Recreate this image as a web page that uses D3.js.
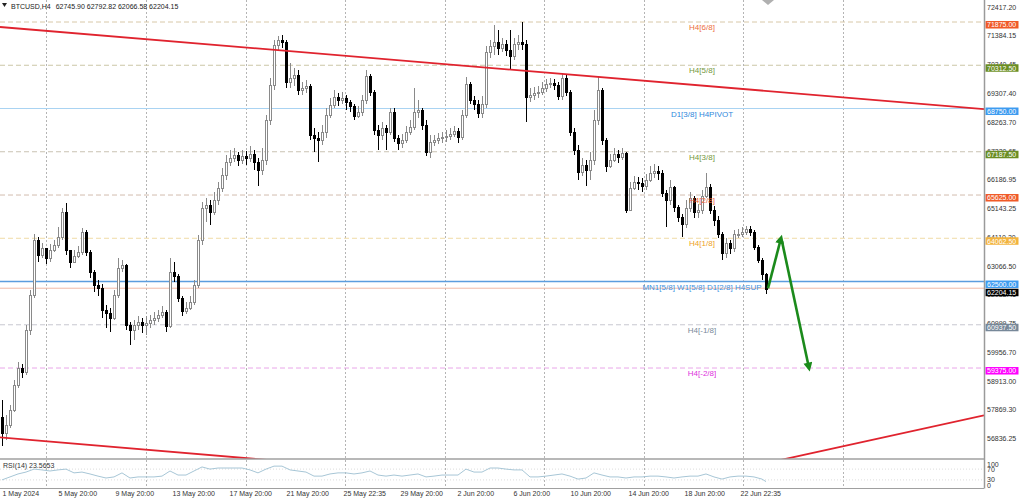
<!DOCTYPE html>
<html><head><meta charset="utf-8">
<script src="https://cdn.jsdelivr.net/npm/d3@7"></script>
<style>
body{margin:0;background:#fff;}
svg{display:block;font-family:'Liberation Sans',Arial,sans-serif;}
</style>
</head><body>
<svg id="c" width="1024" height="500"></svg>
<script>
// ---------------- DATA ----------------
const symbol = "BTCUSD,H4";
const lastOHLC = [62745.90, 62792.82, 62066.58, 62204.15];
const firstOpen = 57600;
const closes = [
57017,57306,57848,58752,59367,59222,60740,62006,63994,63452,
63705,63343,63633,63813,64102,65006,63633,63199,63416,63560,
64283,63560,62837,62367,62259,61463,61355,61174,62006,62982,
63090,60921,60740,60921,61030,60921,60994,61102,61174,61283,
61391,60885,62837,62693,61897,61427,61536,61753,62367,63994,
65151,65259,65006,65440,65874,66344,66814,66958,67067,66886,
67031,66958,67103,66814,66525,66886,68332,69597,71044,71224,
71152,69706,69850,69959,69417,69489,69561,67790,67681,67609,
67898,68513,68874,69164,69055,69127,68983,68838,68477,68621,
69055,69923,69344,67971,67790,68043,67898,68621,67681,67501,
67609,67898,68079,68621,68694,68151,67175,67537,67609,67681,
67717,67754,67826,67934,67717,68513,69633,69055,68910,68585,
68910,70790,71007,71152,70935,71079,70863,70646,71079,71152,
71079,69164,69236,69308,69344,69489,69633,69670,69597,69200,
69850,69344,67898,67248,66452,66705,66525,66886,68332,69417,
67609,66669,66886,67103,66994,67139,65079,65874,66091,66055,
65946,66163,66416,66488,66416,65693,65440,65910,65187,64825,
64572,65151,65512,65006,65079,65585,65910,65079,64717,64211,
63524,63885,63705,64211,64211,64283,64392,64283,63741,63271,
62745.9,62204.15];
const highs = [
58210,57667,58029,58933,59584,59511,60921,62186,64211,64102,
63886,63633,63850,63994,64464,65151,65332,63633,63633,63777,
64428,64355,63633,62910,62548,62403,61644,61536,62186,63343,
63271,63127,61030,61102,61247,61174,61247,61283,61391,61463,
61608,61463,63343,63199,62765,61970,61753,61970,62548,64175,
65368,65512,65440,65729,66091,66597,67067,67248,67320,67175,
67248,67211,67392,67248,66958,67320,68513,69850,71224,71369,
71405,71224,70393,70212,70140,69706,69778,69633,68043,67898,
68151,68766,69127,69417,69308,69344,69236,69055,68910,68838,
69236,70140,69995,69417,68151,68260,68151,68766,68766,67790,
67826,68115,68332,69489,69055,68766,68332,67790,67790,67862,
67898,67971,68043,68115,68043,68694,69887,69706,69200,69055,
69200,71007,71224,71766,71586,71296,71224,71586,71296,71405,
71875,71224,69489,69525,69561,69706,69814,69850,69814,69706,
70031,69959,69417,68043,67428,66958,66886,67175,68694,69887,
69489,67681,67103,67320,67248,67320,67175,66091,66308,66272,
66236,66380,66669,66741,66669,66525,65802,66163,65946,65259,
64934,65440,65729,65585,65296,65802,66416,66018,65223,64862,
64283,64066,63994,64355,64392,64464,64500,64500,64355,63813,
63343,62792.82];
const lows = [
56547,56764,57198,57776,58644,59005,59113,60560,61897,63199,
63343,63127,63199,63560,63705,63994,63452,62982,63199,63343,
63452,63416,62620,62114,61970,61174,60813,60668,61102,61897,
62837,60740,60198,60379,60740,60632,60560,60813,60921,61030,
61174,60668,60813,62476,61753,61247,61319,61463,61644,62259,
63813,64645,64536,64898,65259,65729,66163,66669,66814,66669,
66741,66705,66814,66525,65946,66344,66705,68151,69417,70863,
70935,69489,69489,69561,69236,69236,69308,67609,67175,66814,
67428,67681,68404,68766,68838,68910,68694,68621,68332,68404,
68477,68910,69200,67790,67248,67609,67248,67790,67537,67248,
67320,67501,67790,67971,68404,67971,67031,66958,67392,67464,
67501,67537,67609,67717,67501,67609,68404,68910,68694,68404,
68404,68766,70573,70682,70682,70790,70646,70140,70501,70863,
70863,68260,68983,69055,69127,69236,69344,69489,69417,69055,
69055,69200,67754,67067,66163,66308,65946,66163,66705,68151,
67428,66452,66597,66814,66778,66886,64970,65079,65802,65802,
65729,65802,66091,66235,66163,65548,64464,65259,65006,64645,
64102,64428,65006,64789,64789,64934,65512,64934,64500,64066,
63271,63343,63488,63560,64066,64102,64175,64139,63633,63163,
62548,62066.58];
// RSI(14), sampled every 2nd bar, plus the last bar
const rsiValues = [30,41,52,59,70,67,63,67,70,56,59,52,44,37,41,56,37,41,41,41,
44,63,48,48,63,78,70,74,74,74,74,67,56,70,81,81,67,63,59,44,
44,52,56,56,52,56,63,48,44,48,44,48,52,41,44,48,48,48,70,59,
59,74,74,70,67,67,41,41,44,48,52,44,33,37,56,48,41,41,37,41,
41,44,44,41,37,41,44,44,52,41,33,41,44,44,41,33, 23.5653];
const rsiLast = 23.5653;
const rsiLevels = [100, 70, 30, 0];

const priceTicks = [72417.20,71384.15,70340.45,69307.40,68263.70,67220.65,66186.95,65143.25,
  64110.20,63066.50,62033.45,60999.75,59956.70,58913.00,57869.30,56836.25];
const dateLabels = ["1 May 2024","5 May 20:00","9 May 20:00","13 May 20:00","17 May 20:00","21 May 20:00",
  "25 May 22:35","29 May 20:00","2 Jun 20:00","6 Jun 20:00","10 Jun 20:00","14 Jun 20:00","18 Jun 20:00","22 Jun 22:35"];
const dateBars = [0,14,28.25,42.5,56.75,71,85.25,99.5,113.75,127.75,142,156.5,170.5,184.5];
const gridBars = [11,36,61,85.75,110.75,135.5,160.5,185.25,210.25];

const levelPrices = [71875,70312.5,68750,67187.5,65625,64062.5,62500,60937.5,59375];
const levelNames = ["H4[6/8]","H4[5/8]","D1[3/8] H4PIVOT","H4[3/8]","H4[2/8]","H4[1/8]",
  "MN1[5/8] W1[5/8] D1[2/8] H4SUP","H4[-1/8]","H4[-2/8]"];

// trendlines: [bar, price] pairs
const trendUpper = [[-0.5,71694],[245.5,68730]];
const trendLowerA = [[-0.5,56872],[74.5,55954]];
const trendLowerB = [[192,55969],[245.5,57668]];
// projection arrows
const arrowUp = [[191.5,62250],[194.75,64062.5]];
const arrowDown = [[195,63950],[201.75,59375]];

// ---------------- STYLE ----------------
const levelLineColors = ["#d8c8a8","#cbc6a6","#a9d3f2","#c9c2b2","#d2bcae","#f0dba6","#5b9dde","#c8c8d0","#e9a6e9"];
const levelDashed = [true,true,false,true,true,true,false,true,true];
const levelTextColors = ["#ec6d3c","#74973c","#2f88dc","#74973c","#ec5f38","#eea21f","#3f92df","#7a8a9a","#dd33dd"];
const tagColors = ["#f05a28","#6b8e23","#3d9bf0","#6b8e23","#f05a28","#f2b33d","#3d9bf0","#778899","#ff00ff"];

// ---------------- CHART ----------------
const svg = d3.select("#c");
const plotR = 984, mainB = 459, rsiT = 459, rsiB = 488.5;
const x = d3.scaleLinear().domain([0, 191]).range([2, 766]);
const y = d3.scaleLinear().domain([56836.25, 72417.2]).range([438.3, 7]);
const yR = d3.scaleLinear().domain([0, 100]).range([488, 461]);

const defs = svg.append("defs");
defs.append("clipPath").attr("id","mainClip").append("rect")
  .attr("x",0).attr("y",0).attr("width",plotR).attr("height",mainB);
defs.append("clipPath").attr("id","rsiClip").append("rect")
  .attr("x",0).attr("y",rsiT).attr("width",plotR).attr("height",rsiB-rsiT);
defs.append("marker").attr("id","ah").attr("viewBox","0 0 10 10")
  .attr("refX",6).attr("refY",5).attr("markerWidth",10).attr("markerHeight",9)
  .attr("markerUnits","userSpaceOnUse").attr("orient","auto")
  .append("path").attr("d","M0,0 L10,5 L0,10 z").attr("fill","#1b8a1b");

svg.append("rect").attr("width",1024).attr("height",500).attr("fill","#fff");

// vertical grid
svg.append("g").selectAll("line").data(gridBars).join("line")
  .attr("x1",d=>Math.round(x(d))+0.5).attr("x2",d=>Math.round(x(d))+0.5)
  .attr("y1",0).attr("y2",rsiB)
  .attr("stroke","#b4b4b4").attr("stroke-width",1).attr("stroke-dasharray","2,2");

// level lines
const main = svg.append("g").attr("clip-path","url(#mainClip)");
main.append("g").selectAll("line").data(levelPrices).join("line")
  .attr("x1",0).attr("x2",plotR)
  .attr("y1",d=>y(d)).attr("y2",d=>y(d))
  .attr("stroke",(d,i)=>levelLineColors[i])
  .attr("stroke-width",(d,i)=>i===6?1.3:1)
  .attr("stroke-dasharray",(d,i)=>levelDashed[i]?"5,3":null);
// current price line
main.append("line").attr("x1",0).attr("x2",plotR)
  .attr("y1",y(lastOHLC[3])-1.5).attr("y2",y(lastOHLC[3])-1.5)
  .attr("stroke","#f0b9a6").attr("stroke-width",1);

// candles
const bars = closes.map((c,i)=>{
  const o = i===0 ? firstOpen : (i===closes.length-1 ? lastOHLC[0] : closes[i-1]);
  return {i, o, c, h: Math.max(highs[i], o, c), l: Math.min(lows[i], o, c)};
});
const cg = main.append("g").attr("shape-rendering","crispEdges");
cg.selectAll("line").data(bars).join("line")
  .attr("x1",d=>x(d.i)+0.5).attr("x2",d=>x(d.i)+0.5)
  .attr("y1",d=>y(d.h)).attr("y2",d=>y(d.l))
  .attr("stroke",d=>d.c>=d.o?"#8a8a8a":"#000").attr("stroke-width",1);
cg.selectAll("rect").data(bars).join("rect")
  .attr("x",d=>x(d.i)-0.5).attr("width",2)
  .attr("y",d=>y(Math.max(d.o,d.c)))
  .attr("height",d=>Math.max(1, y(Math.min(d.o,d.c))-y(Math.max(d.o,d.c))))
  .attr("fill",d=>d.c>=d.o?"#ffffff":"#000")
  .attr("stroke",d=>d.c>=d.o?"#8a8a8a":"#000").attr("stroke-width",1);

// trendlines
const tl = d3.line().x(d=>x(d[0])).y(d=>y(d[1]));
[trendUpper, trendLowerA, trendLowerB].forEach(t=>{
  main.append("path").attr("d",tl(t)).attr("fill","none")
    .attr("stroke","#e0232e").attr("stroke-width",1.8);
});

// level labels
svg.append("g").selectAll("text").data(levelPrices).join("text")
  .attr("x",702).attr("y",d=>y(d)+8)
  .attr("text-anchor","middle").attr("font-size",8)
  .attr("fill",(d,i)=>levelTextColors[i])
  .text((d,i)=>levelNames[i]);

// arrows
[arrowUp, arrowDown].forEach(a=>{
  svg.append("path").attr("d",tl(a)).attr("fill","none")
    .attr("stroke","#1b8a1b").attr("stroke-width",2.6).attr("marker-end","url(#ah)");
});

// right price axis
const axisG = svg.append("g").attr("transform",`translate(${plotR},0)`)
  .call(d3.axisRight(y).tickValues(priceTicks).tickFormat(d3.format(".2f")).tickSize(0).tickPadding(3));
axisG.select(".domain").remove();
axisG.selectAll("text").attr("font-size",7).attr("fill","#333").attr("font-family","'Liberation Sans',Arial,sans-serif");

// price tags
const tags = svg.append("g");
const tagData = [{p:lastOHLC[3], col:"#000"}].concat(levelPrices.map((p,i)=>({p, col:tagColors[i]})));
tags.selectAll("rect").data(tagData).join("rect")
  .attr("x",985.5).attr("width",33).attr("y",d=>y(d.p)-1).attr("height",7.5)
  .attr("fill",d=>d.col);
tags.selectAll("text").data(tagData).join("text")
  .attr("x",987).attr("y",d=>y(d.p)+2.8).attr("dominant-baseline","central")
  .attr("font-size",7).attr("fill","#fff").text(d=>d.p.toFixed(2));

// frame lines
svg.append("line").attr("x1",plotR+0.5).attr("x2",plotR+0.5).attr("y1",0).attr("y2",rsiB)
  .attr("stroke","#9a9a9a").attr("stroke-width",1.5);
svg.append("line").attr("x1",0).attr("x2",plotR).attr("y1",rsiT).attr("y2",rsiT)
  .attr("stroke","#a0a0a0").attr("stroke-width",1.5);
svg.append("line").attr("x1",0).attr("x2",plotR).attr("y1",rsiB).attr("y2",rsiB)
  .attr("stroke","#a0a0a0").attr("stroke-width",1);

// RSI panel
const rsiG = svg.append("g").attr("clip-path","url(#rsiClip)");
rsiG.selectAll("line.lv").data([70,30]).join("line").attr("class","lv")
  .attr("x1",0).attr("x2",plotR).attr("y1",d=>yR(d)).attr("y2",d=>yR(d))
  .attr("stroke","#dcdcdc").attr("stroke-dasharray","1,2");
const rsiPts = rsiValues.map((v,k)=>[k<rsiValues.length-1 ? 2*k : 191, v]);
rsiG.append("path").attr("d",d3.line().x(d=>x(d[0])).y(d=>yR(d[1])).curve(d3.curveLinear)(rsiPts))
  .attr("fill","none").attr("stroke","#a7c6d6").attr("stroke-width",1);
svg.append("text").attr("x",3).attr("y",465).attr("dominant-baseline","central")
  .attr("font-size",7).attr("fill","#333").text(`RSI(14) ${rsiLast.toFixed(4)}`);
svg.append("g").selectAll("text").data(rsiLevels).join("text")
  .attr("x",987).attr("y",d=>Math.min(485, Math.max(464, yR(d))))
  .attr("dominant-baseline","central").attr("font-size",7).attr("fill","#333").text(d=>d);

// date axis
const dAx = svg.append("g").attr("transform",`translate(0,${rsiB})`)
  .call(d3.axisBottom(x).tickValues(dateBars).tickFormat((d,i)=>dateLabels[i]).tickSize(0).tickPadding(2.5));
dAx.select(".domain").remove();
dAx.selectAll("text").attr("text-anchor","start").attr("font-size",7).attr("fill","#333")
  .attr("font-family","'Liberation Sans',Arial,sans-serif");

// header
svg.append("path").attr("d","M2,3 L7,3 L4.5,7 Z").attr("fill","#222");
const symT = svg.append("text").attr("x",11).attr("y",6).attr("dominant-baseline","central")
  .attr("font-size",7).attr("fill","#222").text(symbol);
const symEnd = 11 + symT.node().getComputedTextLength();
svg.append("text").attr("x",Math.max(51, symEnd + 5)).attr("y",6).attr("dominant-baseline","central")
  .attr("font-size",7).attr("fill","#222").text(lastOHLC.map(v=>v.toFixed(2)).join(" "));
// chart-shift marker
svg.append("path").attr("d","M762,0 L774,0 L768,5 Z").attr("fill","#b0b0b0");
</script>
</body></html>
